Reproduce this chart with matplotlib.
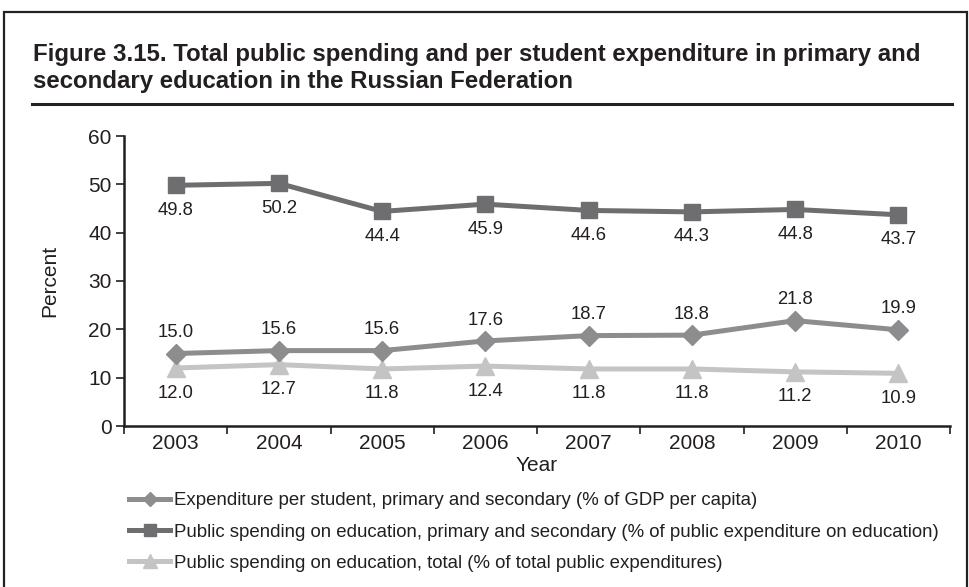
import matplotlib.pyplot as plt
from matplotlib.patches import Rectangle
from matplotlib.lines import Line2D

plt.rcParams['font.family'] = ['Liberation Sans', 'DejaVu Sans']

years = ['2003', '2004', '2005', '2006', '2007', '2008', '2009', '2010']
per_student = [15.0, 15.6, 15.6, 17.6, 18.7, 18.8, 21.8, 19.9]
prim_sec = [49.8, 50.2, 44.4, 45.9, 44.6, 44.3, 44.8, 43.7]
total_pub = [12.0, 12.7, 11.8, 12.4, 11.8, 11.8, 11.2, 10.9]

labels = [
    'Expenditure per student, primary and secondary (% of GDP per capita)',
    'Public spending on education, primary and secondary (% of public expenditure on education)',
    'Public spending on education, total (% of total public expenditures)',
]

c_dia = '#8d8d8f'
c_sq = '#6e6e70'
c_tri = '#c4c4c4'
txt = '#231f20'

W, H = 969, 587
fig = plt.figure(figsize=(W / 100, H / 100), dpi=100)

# outer frame and title rule
fig.patches.append(Rectangle((4 / W, -0.05), 963 / W, 1 - 12 / H + 0.05, transform=fig.transFigure,
                             fill=False, edgecolor='#222222', linewidth=1.6))
fig.add_artist(Line2D([32 / W, 952 / W], [1 - 104 / H, 1 - 104 / H], transform=fig.transFigure,
                      color='#222222', linewidth=2.2))
fig.text(33 / W, 1 - 88 / H, 'Figure 3.15. Total public spending and per student expenditure in primary and\n'
         'secondary education in the Russian Federation', fontsize=17.3, fontweight='bold',
         color=txt, va='baseline', ha='left', linespacing=1.22)

ax = fig.add_axes([124 / W, 1 - 426 / H, 826 / W, 290 / H])
x = range(len(years))

ax.plot(x, per_student, color=c_dia, lw=3.6, marker='D', ms=10, label=labels[0], zorder=3)
ax.plot(x, prim_sec, color=c_sq, lw=3.6, marker='s', ms=12, label=labels[1], zorder=3)
ax.plot(x, total_pub, color=c_tri, lw=3.6, marker='^', ms=13, label=labels[2], zorder=2)

for i in x:
    ax.annotate(f'{per_student[i]:.1f}', (i, per_student[i]), xytext=(0, 15), textcoords='offset points',
                ha='center', va='center', fontsize=13.3, color=txt)
    ax.annotate(f'{prim_sec[i]:.1f}', (i, prim_sec[i]), xytext=(0, -18), textcoords='offset points',
                ha='center', va='center', fontsize=13.3, color=txt)
    ax.annotate(f'{total_pub[i]:.1f}', (i, total_pub[i]), xytext=(0, -18), textcoords='offset points',
                ha='center', va='center', fontsize=13.3, color=txt)

ax.set_xlim(-0.5, len(years) - 0.5)
ax.set_ylim(0, 60)
ax.set_yticks(range(0, 61, 10))
ax.set_xticks(x)
ax.set_xticklabels(years)
ax.set_xticks([i - 0.5 for i in range(len(years) + 1)], minor=True)
ax.tick_params(axis='x', which='major', length=0, labelsize=15, colors=txt, pad=6)
ax.tick_params(axis='x', which='minor', length=6, width=1.2, color=txt)
ax.tick_params(axis='y', length=6, width=1.2, labelsize=15, colors=txt, pad=3)
for s in ['top', 'right']:
    ax.spines[s].set_visible(False)
for s in ['left', 'bottom']:
    ax.spines[s].set_linewidth(1.8)
    ax.spines[s].set_color(txt)

ax.set_xlabel('Year', fontsize=15, color=txt, labelpad=2)
ax.set_ylabel('Percent', fontsize=15, color=txt, labelpad=21)

leg = fig.legend(loc='upper left', bbox_to_anchor=(122 / W, 1 - 485 / H), frameon=False,
                 fontsize=13.4, handlelength=2.2, handletextpad=0.2, labelspacing=0.76,
                 markerscale=0.75, borderaxespad=0)
for t in leg.get_texts():
    t.set_color(txt)

fig.savefig('out.png', dpi=100)
